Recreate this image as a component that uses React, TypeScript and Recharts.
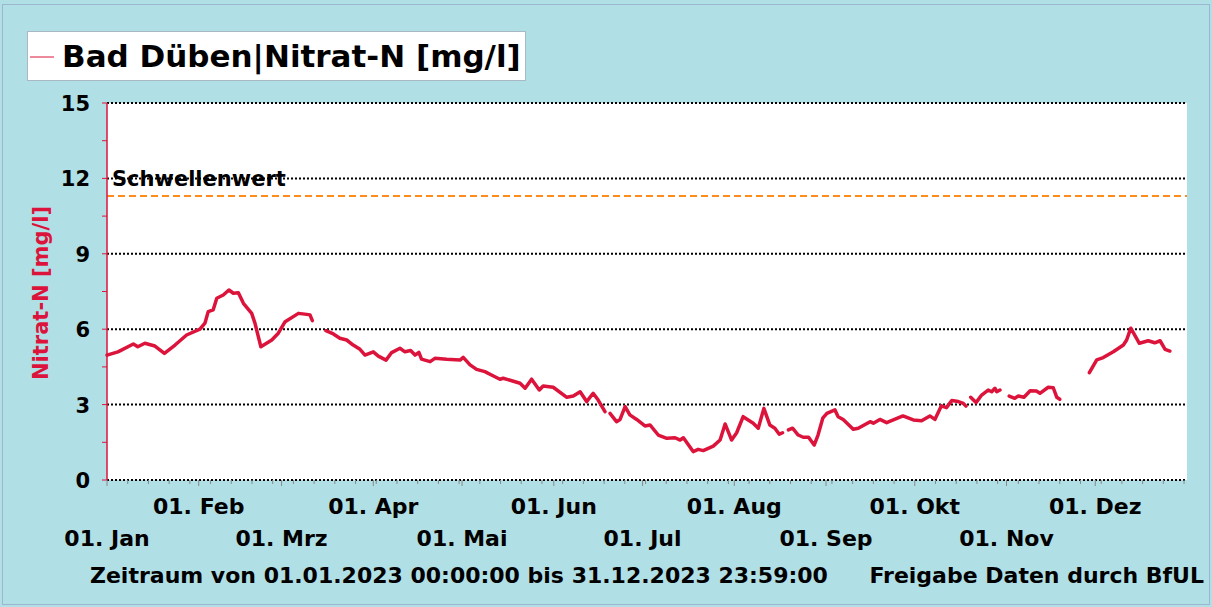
import React from 'react';
import {
  CartesianGrid,
  Line,
  LineChart,
  ReferenceLine,
  XAxis,
  YAxis,
} from 'recharts';

// day of year (0 = 01.01.2023), null marks a gap in the measurements
const DAYS = [
  0, 3.7, 8.9, 10.4, 12.8, 16.2, 19.4, 23, 26.9, 31.4, 33.1, 34.2, 35.9, 37.1, 39.3, 41.2, 42.7, 44.4,
  46.1, 48.9, 50, 52, 55.7, 57.9, 60.2, 64.7, 67.5, 68.6, 69.4,
  71.5,
  74, 76.5, 78.7, 81, 83.2, 85.5, 87.2, 90, 91.7, 94.3, 96.2, 99, 100.7, 102.6, 104.1, 105.4, 106.3,
  109.2, 110.8, 114.8, 119.3, 120.4, 122.7, 124.9, 127.7, 130.6, 132.8, 133.9, 136.8, 139.6, 141.3,
  143.5, 146.1, 147.4, 150.8, 155.4, 157.6, 159.9, 162.1, 164.3, 166, 168.3,
  169.2,
  170, 172.2, 173.4, 175.1, 176.7, 179, 181.8, 183.5, 186.3, 189.2, 192, 193.7, 194.8, 198.1, 199.8,
  201.5, 204.9, 207.2, 208.9, 211.1, 212.8, 215, 218.4, 220.1, 222, 224, 225.7, 227.2, 228.3,
  229.3,
  230.3, 231.7, 233.6, 235.3, 237.1, 239, 240.3, 241.9, 243.3, 246, 247.1, 248.8, 252.2, 253.9, 257.9,
  259, 261.2, 263.5, 269, 272.5, 275.3, 278.1, 279.8, 282, 283.7, 285.5, 287.7, 289.4, 290.3,
  291.1,
  291.9, 293.7, 295.6, 297.8, 299, 300.1, 300.7, 301.8,
  303.3,
  304.9, 306.8, 308, 309.9, 312, 314.1, 315.3, 318.1, 319.8, 321, 322,
  327,
  332, 334.5, 336.7, 340.1, 343.5, 344.6, 346, 348.9, 351.9, 354.1, 355.9, 357.6, 359.2,
];

const NITRAT: (number | null)[] = [
  4.97, 5.1, 5.41, 5.3, 5.44, 5.33, 5.04, 5.37, 5.77, 6.0, 6.24, 6.7, 6.77, 7.23, 7.36, 7.56, 7.43, 7.45,
  7.03, 6.63, 6.24, 5.3, 5.57, 5.84, 6.3, 6.63, 6.59, 6.57, 6.34,
  null,
  5.94, 5.81, 5.64, 5.57, 5.37, 5.2, 4.97, 5.1, 4.93, 4.77, 5.07, 5.24, 5.1, 5.15, 4.97, 5.08, 4.81,
  4.71, 4.84, 4.8, 4.77, 4.88, 4.58, 4.4, 4.31, 4.14, 4.01, 4.05, 3.95, 3.85, 3.65,
  4.01, 3.58, 3.74, 3.69, 3.29, 3.34, 3.51, 3.12, 3.45, 3.18, 2.72,
  null,
  2.65, 2.32, 2.41, 2.92, 2.59, 2.41, 2.15, 2.19, 1.79, 1.66, 1.68, 1.59, 1.68, 1.13, 1.22,
  1.17, 1.35, 1.59, 2.23, 1.59, 1.88, 2.52, 2.26, 2.06, 2.85, 2.19, 2.06, 1.82, 1.88,
  null,
  1.99, 2.06, 1.79, 1.7, 1.7, 1.39, 1.79, 2.46, 2.65, 2.79, 2.52, 2.41, 2.02, 2.06, 2.32,
  2.26, 2.41, 2.28, 2.55, 2.39, 2.36, 2.55, 2.41, 2.95, 2.88, 3.16, 3.12, 3.05, 2.94,
  null,
  3.29, 3.08, 3.38, 3.58, 3.51, 3.65, 3.51, 3.58,
  null,
  3.34, 3.25, 3.34, 3.29, 3.55, 3.54, 3.45, 3.69, 3.67, 3.29, 3.21,
  null,
  4.27, 4.78, 4.87, 5.1, 5.37, 5.57, 6.04, 5.44, 5.54, 5.46, 5.54, 5.2, 5.13,
];

const MONTH_STARTS = [0, 31, 59, 90, 120, 151, 181, 212, 243, 273, 304, 334];
const MONTH_LABELS = [
  '01. Jan', '01. Feb', '01. Mrz', '01. Apr', '01. Mai', '01. Jun',
  '01. Jul', '01. Aug', '01. Sep', '01. Okt', '01. Nov', '01. Dez',
];
const Y_TICKS = [0, 1.5, 3, 4.5, 6, 7.5, 9, 10.5, 12, 13.5, 15];
const Y_GRID = [0, 3, 6, 9, 12, 15];
const THRESHOLD = 11.3;

const TITLE = 'Bad Düben|Nitrat-N [mg/l]';
const Y_LABEL = 'Nitrat-N [mg/l]';
const FOOTER_LEFT = 'Zeitraum von 01.01.2023 00:00:00 bis 31.12.2023 23:59:00';
const FOOTER_RIGHT = 'Freigabe Daten durch BfUL';

const RED = '#DC143C';
const BG = '#B0DFE5';
const FONT = '"DejaVu Sans", Verdana, sans-serif';

const data = DAYS.map((day, i) => ({ day, v: NITRAT[i] }));

// weekly minor ticks plus the month starts
const weekTicks = Array.from({ length: 53 }, (_, i) => i * 7);
const xTicks = Array.from(new Set([...weekTicks, ...MONTH_STARTS])).sort((a, b) => a - b);

function XTick(props: any) {
  const { x, y, payload } = props;
  const idx = MONTH_STARTS.indexOf(payload.value);
  const isMonth = idx >= 0;
  return (
    <g>
      <line x1={x} x2={x} y1={y} y2={y + (isMonth ? 6 : 4)} stroke="#8a8a8a" strokeWidth={1} />
      {isMonth && (
        <text
          x={x}
          y={idx % 2 === 1 ? y + 34 : y + 66}
          textAnchor="middle"
          fontFamily={FONT}
          fontWeight="bold"
          fontSize={22}
          fill="#000"
        >
          {MONTH_LABELS[idx]}
        </text>
      )}
    </g>
  );
}

function YTick(props: any) {
  const { x, y, payload } = props;
  if (payload.value % 3 !== 0) return <g />;
  return (
    <text x={x} y={y + 8} textAnchor="end" fontFamily={FONT} fontWeight="bold" fontSize={21} fill="#000">
      {payload.value}
    </text>
  );
}

export default function App() {
  return (
    <div style={{ position: 'fixed', left: 0, top: 0, width: 1212, height: 607, background: BG }}>
      <LineChart
        width={1212}
        height={607}
        data={data}
        margin={{ top: 103, right: 25, bottom: 0, left: 0 }}
      >
        <CartesianGrid
          vertical={false}
          horizontalValues={Y_GRID}
          fill="#fff"
          fillOpacity={1}
          stroke="#000"
          strokeWidth={2}
          strokeDasharray="2 2"
        />
        <XAxis
          dataKey="day"
          type="number"
          domain={[0, 365]}
          ticks={xTicks}
          interval={0}
          tick={<XTick />}
          tickLine={false}
          axisLine={false}
          tickSize={0}
          tickMargin={0}
          height={127}
        />
        <YAxis
          type="number"
          domain={[0, 15]}
          ticks={Y_TICKS}
          interval={0}
          width={107}
          tick={<YTick />}
          tickSize={5}
          tickMargin={12}
          tickLine={{ stroke: RED }}
          axisLine={{ stroke: RED, strokeWidth: 1.5 }}
        />
        <ReferenceLine
          y={THRESHOLD}
          stroke="#FF8C1A"
          strokeWidth={2}
          strokeDasharray="7 4"
          label={(p: any) => (
            <text
              x={p.viewBox.x + 5}
              y={p.viewBox.y - 10}
              fontFamily={FONT}
              fontWeight="bold"
              fontSize={21}
              fill="#000"
            >
              Schwellenwert
            </text>
          )}
        />
        <Line
          type="linear"
          dataKey="v"
          stroke={RED}
          strokeWidth={3.5}
          strokeLinejoin="round"
          strokeLinecap="round"
          dot={false}
          activeDot={false}
          connectNulls={false}
          isAnimationActive={false}
        />
      </LineChart>
      <svg
        width={1212}
        height={607}
        style={{ position: 'absolute', left: 0, top: 0, pointerEvents: 'none' }}
      >
        <rect x={2.5} y={4.5} width={1207} height={600} fill="none" stroke="#9DB6CF" />
        <rect x={27.5} y={31.5} width={498} height={49} fill="#fff" stroke="#A8B8C4" />
        <line x1={30} x2={54} y1={57} y2={57} stroke={RED} strokeWidth={1} />
        <text x={62} y={67} fontFamily={FONT} fontWeight="bold" fontSize={31} fill="#000">
          {TITLE}
        </text>
        <text
          transform="translate(48 293) rotate(-90)"
          textAnchor="middle"
          fontFamily={FONT}
          fontWeight="bold"
          fontSize={21}
          fill={RED}
        >
          {Y_LABEL}
        </text>
        <text x={90} y={583} fontFamily={FONT} fontWeight="bold" fontSize={22} fill="#000">
          {FOOTER_LEFT}
        </text>
        <text x={1204} y={583} textAnchor="end" fontFamily={FONT} fontWeight="bold" fontSize={22} fill="#000">
          {FOOTER_RIGHT}
        </text>
      </svg>
    </div>
  );
}
